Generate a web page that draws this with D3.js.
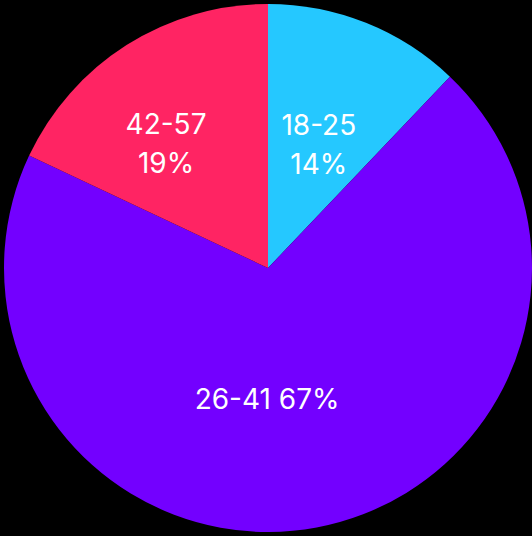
<!DOCTYPE html>
<html>
<head>
<meta charset="utf-8">
<script src="https://cdn.jsdelivr.net/npm/d3@7"></script>
<style>
  html, body { margin: 0; padding: 0; background: #000; }
  svg { display: block; }
</style>
</head>
<body>
<div id="chart"></div>
<script>
'use strict';

// age groups, in drawing order (clockwise from 12 o'clock)
var groups = ["18-25", "26-41", "42-57"];
// slice sizes as drawn
var shares = [12.1, 69.9, 18.0];
// percentages printed on the slices
var pctLabels = ["14%", "67%", "19%"];
var colors = ["#25c8ff", "#7300ff", "#ff2463"];

// where each label sits: [angle in degrees from top, distance from centre]
var labelPolar = [[22.3, 134], [180.4, 131], [-39.3, 161]];

var width = 532, height = 536;
var cx = 268, cy = 268, radius = 264;

var svg = d3.select("#chart").append("svg")
    .attr("width", width)
    .attr("height", height)
    .style("background", "#000");

var data = groups.map(function(g, i) {
    return { group: g, value: shares[i], pct: pctLabels[i], color: colors[i], pos: labelPolar[i] };
});

var pie = d3.pie().sort(null).value(d => d.value).startAngle(0);
var arc = d3.arc().innerRadius(0).outerRadius(radius);

var g = svg.append("g").attr("transform", "translate(" + cx + "," + cy + ")");

g.selectAll("path.slice")
    .data(pie(data))
    .enter().append("path")
    .attr("class", "slice")
    .attr("d", arc)
    .attr("fill", d => d.data.color);

var labels = g.selectAll("text.lbl")
    .data(pie(data))
    .enter().append("text")
    .attr("class", "lbl")
    .attr("transform", function(d) {
        var a = d.data.pos[0] * Math.PI / 180, r = d.data.pos[1];
        return "translate(" + (r * Math.sin(a)) + "," + (-r * Math.cos(a)) + ")";
    })
    .attr("text-anchor", "middle")
    .style("font-family", "Inter, 'Noto Sans', sans-serif")
    .style("font-size", "28px")
    .style("fill", "#fff");

labels.each(function(d) {
    var t = d3.select(this);
    // the big slice has room for one line
    if (d.endAngle - d.startAngle > Math.PI) {
        t.append("tspan").attr("x", 0).attr("dy", "0.36em").text(d.data.group + " " + d.data.pct);
    } else {
        t.append("tspan").attr("x", 0).attr("dy", "-0.33em").text(d.data.group);
        t.append("tspan").attr("x", 0).attr("dy", "1.39em").text(d.data.pct);
    }
});
</script>
</body>
</html>
